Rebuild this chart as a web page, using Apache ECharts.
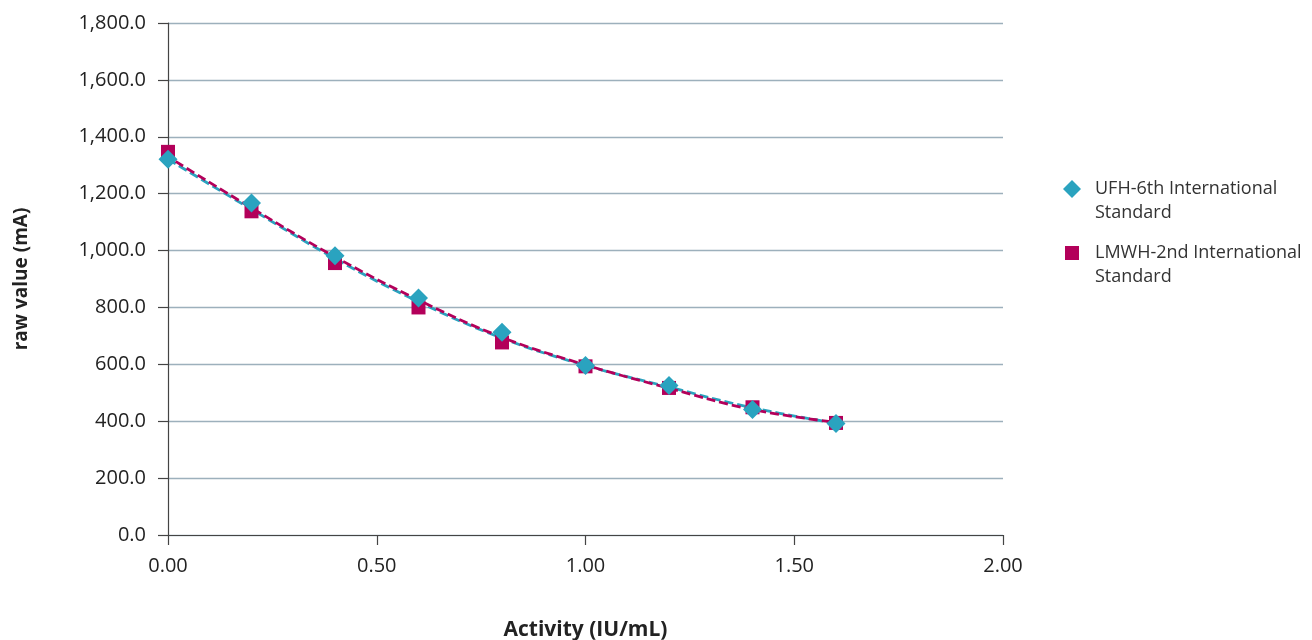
<!DOCTYPE html>
<html><head><meta charset="utf-8">
<script src="https://cdn.jsdelivr.net/npm/echarts@6/dist/echarts.min.js"></script>
<style>html,body{margin:0;padding:0;background:#fff}#c{width:1312px;height:640px}</style>
</head><body><div id="c"></div>
<script>
const activity = [0, 0.2, 0.4, 0.6, 0.8, 1.0, 1.2, 1.4, 1.6];
const ufh = [1321, 1167, 982, 833, 713, 596, 526, 441, 392];
const lmwh = [1347, 1138, 956, 800, 677, 593, 517, 449, 394];
// dashed trend curves at the same activities
const ufhTrend = [1321, 1145, 972, 820, 692, 596, 520, 447, 393];
const lmwhTrend = [1330, 1150, 978, 826, 695, 598, 516, 441, 396];
const seriesNames = ['UFH-6th International\nStandard', 'LMWH-2nd International\nStandard'];
const teal = '#2AA3BF', mag = '#B3005A';
const font = '"Open Sans", "Noto Sans", sans-serif';
const pairs = ys => activity.map((x, i) => [x, ys[i]]);
const chart = echarts.init(document.getElementById('c'));
chart.setOption({
  animation: false,
  textStyle: { fontFamily: font },
  grid: { left: 168, right: 309, top: 23, bottom: 105, outerBoundsMode: 'none', containLabel: false },
  legend: {
    orient: 'vertical', left: 1063, top: 153, itemGap: -8, padding: 0,
    itemWidth: 18, itemHeight: 18,
    formatter: name => '\n' + name,
    textStyle: { fontFamily: font, fontSize: 18, color: '#333', lineHeight: 24, padding: [0, 0, 0, 9] },
    data: [
      { name: seriesNames[0], icon: 'diamond' },
      { name: seriesNames[1], icon: 'path://M0,0M2,2h14v14h-14ZM18,18' }
    ]
  },
  xAxis: {
    type: 'value', min: 0, max: 2, interval: 0.5,
    name: 'Activity (IU/mL)', nameLocation: 'middle', nameGap: 85,
    nameTextStyle: { fontFamily: font, fontSize: 21, fontWeight: 'bold', color: '#222' },
    axisLine: { show: true, onZero: false, lineStyle: { color: '#444', width: 1.2 } },
    axisTick: { show: true, length: 10, lineStyle: { color: '#444', width: 1.2 } },
    axisLabel: { fontSize: 20, color: '#222', margin: 21, formatter: v => v.toFixed(2) },
    splitLine: { show: false }
  },
  yAxis: {
    type: 'value', min: 0, max: 1800, interval: 200,
    name: 'raw value (mA)', nameLocation: 'middle', nameGap: 137, nameRotate: 90,
    nameTextStyle: { fontFamily: font, fontSize: 19, fontWeight: 'bold', color: '#222' },
    axisLine: { show: true, lineStyle: { color: '#444', width: 1.2 } },
    axisTick: { show: true, length: 10, lineStyle: { color: '#444', width: 1.2 } },
    axisLabel: { fontSize: 20, color: '#222', margin: 22,
      formatter: v => v.toLocaleString('en-US', { minimumFractionDigits: 1, maximumFractionDigits: 1 }) },
    splitLine: { show: true, lineStyle: { color: '#9DB0BC', width: 1.4 } }
  },
  series: [
    {
      name: 'UFH trend', type: 'line', smooth: 0.4, showSymbol: false, z: 2,
      data: pairs(ufhTrend), silent: true,
      lineStyle: { color: teal, width: 2.8, type: [9, 4] }
    },
    {
      name: 'LMWH trend', type: 'line', smooth: 0.4, showSymbol: false, z: 3,
      data: pairs(lmwhTrend), silent: true,
      lineStyle: { color: mag, width: 2.8, type: [9, 4], dashOffset: 4 }
    },
    {
      name: seriesNames[1], type: 'scatter', z: 4,
      data: pairs(lmwh),
      symbol: 'rect', symbolSize: 14,
      itemStyle: { color: mag, opacity: 1 }
    },
    {
      name: seriesNames[0], type: 'scatter', z: 5,
      data: pairs(ufh),
      symbol: 'diamond', symbolSize: 19,
      itemStyle: { color: teal, opacity: 1 }
    }
  ]
});
</script></body></html>
